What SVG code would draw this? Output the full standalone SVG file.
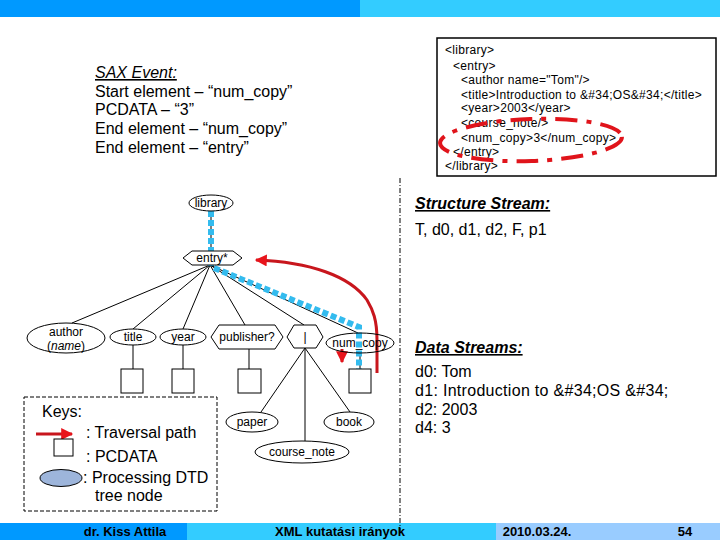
<svg xmlns="http://www.w3.org/2000/svg" width="720" height="540" viewBox="0 0 720 540">
<style>
text{font-family:"Liberation Sans",Arial,sans-serif;fill:#000}
.t12{font-size:12px}
.t16{font-size:16px}
.xml{font-size:12px;letter-spacing:0.3px}
.node{fill:#fff;stroke:#000;stroke-width:1}
.edge{stroke:#000;stroke-width:1;fill:none}
.blue{stroke:#33BBEE;stroke-width:6;stroke-dasharray:6 3;fill:none}
.red{stroke:#C8161D;stroke-width:3;fill:none}
.foot{font-family:"Liberation Sans Narrow","Liberation Sans",Arial,sans-serif;font-size:13px;font-weight:bold;text-anchor:middle}
</style>
<defs>
<marker id="ah" viewBox="0 0 10 10" refX="9" refY="5" markerWidth="4.5" markerHeight="4" orient="auto" markerUnits="strokeWidth">
<path d="M0,0 L10,5 L0,10 z" fill="#E8141B"/>
</marker>
</defs>
<rect width="720" height="540" fill="#fff"/>
<rect x="0" y="0" width="360" height="17" fill="#0099FF"/>
<rect x="360" y="0" width="360" height="17" fill="#33CCFF"/>
<rect x="0" y="523" width="187" height="17" fill="#0099FF"/>
<rect x="187" y="523" width="309" height="17" fill="#33CCFF"/>
<rect x="496" y="523" width="224" height="17" fill="#99CCFF"/>
<text class="foot" x="125" y="536">dr. Kiss Attila</text>
<text class="foot" x="340" y="536">XML kutatási irányok</text>
<text class="foot" x="537" y="536">2010.03.24.</text>
<text class="foot" x="685" y="536">54</text>
<line x1="400" y1="178" x2="400" y2="535" stroke="#000" stroke-width="1" stroke-dasharray="5 2 1 2"/>
<g id="xmlbox">
<rect x="437" y="38" width="279" height="138" fill="#fff" stroke="#000" stroke-width="1.5"/>
<text class="xml" x="445" y="54">&lt;library&gt;</text>
<text class="xml" x="453" y="70">&lt;entry&gt;</text>
<text class="xml" x="461" y="84">&lt;author name="Tom"/&gt;</text>
<text class="xml" x="461" y="99">&lt;title&gt;Introduction to &amp;#34;OS&amp;#34;&lt;/title&gt;</text>
<text class="xml" x="461" y="112">&lt;year&gt;2003&lt;/year&gt;</text>
<text class="xml" x="461" y="127">&lt;course_note/&gt;</text>
<text class="xml" x="461" y="142">&lt;num_copy&gt;3&lt;/num_copy&gt;</text>
<text class="xml" x="453" y="156">&lt;/entry&gt;</text>
<text class="xml" x="445" y="170">&lt;/library&gt;</text>
<ellipse cx="531" cy="140" rx="91" ry="21" fill="none" stroke="#E0141B" stroke-width="4" stroke-dasharray="22 9 5 9" transform="rotate(-2 531 140)"/>
</g>
<g id="sax">
<text class="t16" x="95" y="78" font-style="italic" text-decoration="underline">SAX Event:</text>
<text class="t16" x="95" y="97">Start element – “num_copy”</text>
<text class="t16" x="95" y="115">PCDATA – “3”</text>
<text class="t16" x="95" y="134">End element – “num_copy”</text>
<text class="t16" x="95" y="153">End element – “entry”</text>
</g>
<g id="structure">
<text class="t16" x="415" y="209" font-style="italic" font-weight="bold" text-decoration="underline">Structure Stream:</text>
<text class="t16" x="415" y="235">T, d0, d1, d2, F, p1</text>
</g>
<g id="data">
<text class="t16" x="415" y="353" font-style="italic" font-weight="bold" text-decoration="underline">Data Streams:</text>
<text class="t16" x="415" y="377">d0: Tom</text>
<text class="t16" x="415" y="396" letter-spacing="0.3">d1: Introduction to &amp;#34;OS &amp;#34;</text>
<text class="t16" x="415" y="415">d2: 2003</text>
<text class="t16" x="415" y="433">d4: 3</text>
</g>
<g id="connectors">
<line class="edge" x1="211" y1="211" x2="211" y2="251"/>
<line class="edge" x1="210" y1="265" x2="72" y2="323"/>
<line class="edge" x1="210" y1="265" x2="133" y2="329"/>
<line class="edge" x1="210" y1="265" x2="183" y2="329"/>
<line class="edge" x1="210" y1="265" x2="245" y2="325"/>
<line class="edge" x1="210" y1="265" x2="304" y2="325"/>
<line class="edge" x1="210" y1="265" x2="358" y2="333"/>
<line class="edge" x1="133" y1="345" x2="133" y2="369"/>
<line class="edge" x1="183" y1="345" x2="183" y2="369"/>
<line class="edge" x1="249" y1="349" x2="249" y2="369"/>
<line class="edge" x1="360" y1="353" x2="360" y2="369"/>
<line class="edge" x1="305" y1="348" x2="261" y2="412"/>
<line class="edge" x1="305" y1="348" x2="350" y2="412"/>
<line class="edge" x1="305" y1="348" x2="305" y2="441"/>
<path class="blue" d="M211,211 L211,266"/>
<path class="blue" d="M214,268 L359,327 L359,369"/>
<path class="red" d="M377,373 L377,340 C377,320 373,310 367,300 C350,276 310,262 256,260" marker-end="url(#ah)"/>
<path class="red" d="M342,349 L342,362" marker-end="url(#ah)"/>
</g>
<g id="library"><ellipse class="node" cx="211" cy="203" rx="22" ry="8"/><text class="t12" x="211" y="207" text-anchor="middle">library</text></g>
<g id="entry"><polygon class="node" points="183,258 192,251 233,251 242,258 233,265 192,265"/><text class="t12" x="212" y="262" text-anchor="middle">entry*</text></g>
<g id="author"><ellipse class="node" cx="66" cy="338" rx="39" ry="15"/><text class="t12" x="66" y="336" text-anchor="middle">author</text><text class="t12" x="66" y="350" text-anchor="middle">(<tspan font-style="italic">name</tspan>)</text></g>
<g id="title"><ellipse class="node" cx="133" cy="337" rx="23" ry="8"/><text class="t12" x="133" y="341" text-anchor="middle">title</text></g>
<g id="year"><ellipse class="node" cx="183" cy="337" rx="23" ry="8"/><text class="t12" x="183" y="341" text-anchor="middle">year</text></g>
<g id="publisher"><polygon class="node" points="211,337 219,325 275,325 283,337 275,349 219,349"/><text class="t12" x="247" y="341" text-anchor="middle">publisher?</text></g>
<g id="choice"><polygon class="node" points="287,337 294,325 316,325 323,337 316,348 294,348"/><text class="t12" x="305" y="341" text-anchor="middle">|</text></g>
<g id="num_copy"><ellipse class="node" cx="360" cy="343" rx="34" ry="10" style="fill:none"/><text class="t12" x="360" y="347" text-anchor="middle">num_copy</text></g>
<g id="pc_title"><rect class="node" x="121" y="369" width="22" height="24"/></g>
<g id="pc_year"><rect class="node" x="172" y="369" width="22" height="24"/></g>
<g id="pc_publisher"><rect class="node" x="238" y="369" width="23" height="24"/></g>
<g id="pc_num_copy"><rect class="node" x="349" y="369" width="22" height="24"/></g>
<g id="paper"><ellipse class="node" cx="252" cy="422" rx="26" ry="10"/><text class="t12" x="252" y="426" text-anchor="middle">paper</text></g>
<g id="book"><ellipse class="node" cx="349" cy="422" rx="25" ry="10"/><text class="t12" x="349" y="426" text-anchor="middle">book</text></g>
<g id="course_note"><ellipse class="node" cx="302" cy="452" rx="47" ry="11"/><text class="t12" x="302" y="456" text-anchor="middle">course_note</text></g>
<g id="keys">
<rect x="24" y="397" width="193" height="114" fill="none" stroke="#000" stroke-width="1" stroke-dasharray="4 2"/>
<text class="t16" x="42" y="417">Keys:</text>
<path class="red" d="M36,434 L72,434" marker-end="url(#ah)"/>
<text class="t16" x="86" y="438">: Traversal path</text>
<rect class="node" x="54" y="439" width="19" height="17"/>
<text class="t16" x="86" y="462">: PCDATA</text>
<ellipse cx="61" cy="478" rx="21" ry="8.5" fill="#9DB5DB" stroke="#000" stroke-width="1"/>
<text class="t16" x="83" y="483">: Processing DTD</text>
<text class="t16" x="95" y="501">tree node</text>
</g>
</svg>
